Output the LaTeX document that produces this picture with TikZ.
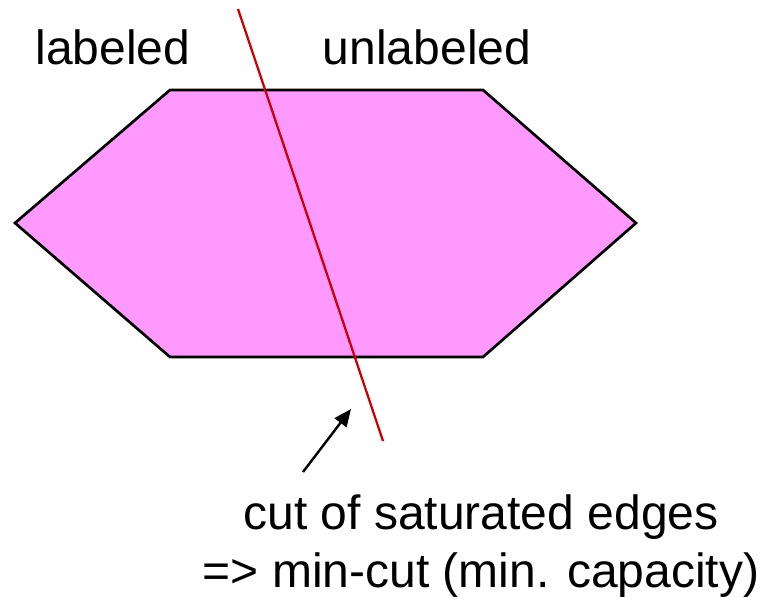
\documentclass[tikz,border=0pt]{standalone}
\usepackage{fontspec}
\setmainfont{Liberation Sans}
\usetikzlibrary{arrows.meta}
\definecolor{cpink}{HTML}{FF99FF}
\definecolor{cred}{HTML}{CC0000}
\tikzset{
  every picture/.style={x=0.75pt, y=-0.75pt},
  region/.style={draw=black, fill=cpink, line width=2pt, line join=miter},
  cutline/.style={draw=cred, line width=1.7pt},
  arrow/.style={-{Triangle[length=13pt, width=11pt]}, draw=black, line width=1.8pt},
  label/.style={font=\fontsize{36}{43.5}\selectfont, inner sep=0pt},
}

\begin{document}
\begin{tikzpicture}
  \useasboundingbox (0,0) rectangle (767,598);
  % the graph, split into two parts
  \draw[region] (170,90) -- (483,90) -- (636,223) -- (483,357) -- (170,357) -- (15,223) -- cycle;
  \node[label, anchor=base] (lab) at (113,65) {labeled};
  \node[label, anchor=base] (unlab) at (427,65) {unlabeled};
  % the cut
  \coordinate (ctop) at (238,9);
  \coordinate (cbot) at (383,441);
  \draw[cutline] (ctop) -- (cbot);
  \node[label, align=center, anchor=north] (note) at (481,494) {cut of saturated edges\\=> min-cut (min. capacity)};
  \coordinate (tail) at (303,472);
  \coordinate (tip) at (351,409);
  \draw[arrow] (tail) -- (tip);
\end{tikzpicture}
\end{document}
